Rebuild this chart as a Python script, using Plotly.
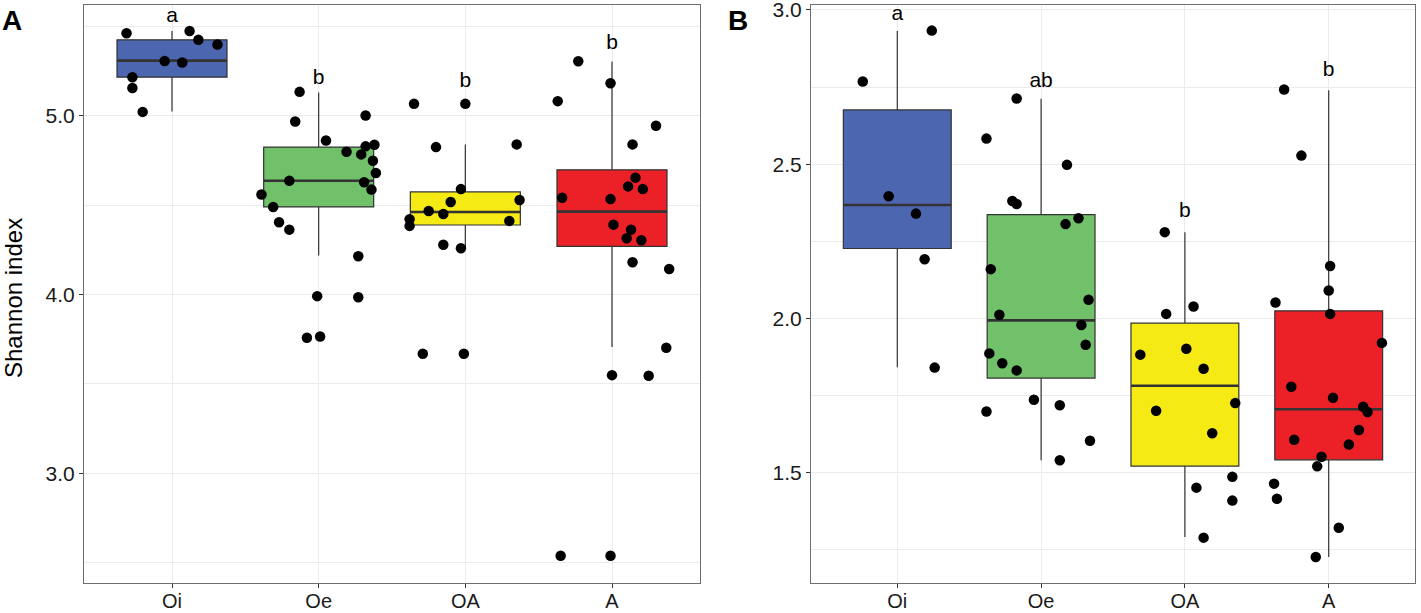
import plotly.graph_objects as go

# categories and colours
horizons = ["Oi", "Oe", "OA", "A"]
box_colors = ["#4C66AF", "#70C169", "#F5EA14", "#EC2027"]

# panel A: Shannon index, box stats
a_q1 = [5.216, 4.490, 4.389, 4.270]
a_median = [5.309, 4.637, 4.462, 4.464]
a_q3 = [5.425, 4.825, 4.574, 4.698]
a_low = [5.024, 4.218, 4.259, 3.706]
a_high = [5.475, 5.130, 4.840, 5.304]
a_letters = ["a", "b", "b", "b"]
a_letter_y = [5.555, 5.21, 5.19, 5.406]

# panel A points (value, horizontal jitter in category units)
a_oi = [5.462, 5.475, 5.425, 5.399, 5.307, 5.298, 5.216, 5.156, 5.022]
a_oi_jit = [-0.31, 0.12, 0.18, 0.31, -0.05, 0.07, -0.27, -0.27, -0.20]
a_oe = [5.134, 4.968, 5.002, 4.862, 4.799, 4.829, 4.838, 4.784, 4.749, 4.680, 4.637,
        4.628, 4.587, 4.560, 4.490, 4.404, 4.363, 4.214, 3.991, 3.985, 3.758, 3.765]
a_oe_jit = [-0.13, -0.16, 0.32, 0.05, 0.19, 0.32, 0.38, 0.29, 0.37, 0.39, -0.20,
            0.31, 0.36, -0.39, -0.31, -0.27, -0.20, 0.27, -0.01, 0.27, -0.08, 0.01]
a_oa = [5.067, 5.067, 4.825, 4.840, 4.590, 4.518, 4.529, 4.467, 4.451, 4.421, 4.384,
        4.412, 4.279, 4.259, 3.669, 3.669]
a_oa_jit = [-0.35, 0.00, -0.20, 0.35, -0.03, -0.10, 0.37, -0.25, -0.15, -0.38, -0.38,
            0.30, -0.15, -0.03, -0.29, -0.01]
a_a = [5.305, 5.182, 5.082, 4.944, 4.840, 4.542, 4.534, 4.654, 4.605, 4.590, 4.391,
       4.363, 4.315, 4.304, 4.181, 4.143, 3.702, 3.549, 3.546, 2.538, 2.538]
a_a_jit = [-0.23, -0.01, -0.37, 0.30, 0.14, -0.34, -0.01, 0.16, 0.11, 0.21, 0.01,
           0.13, 0.10, 0.20, 0.14, 0.39, 0.37, 0.00, 0.25, -0.35, -0.01]

# panel B
b_q1 = [2.227, 1.807, 1.522, 1.542]
b_median = [2.368, 1.994, 1.782, 1.706]
b_q3 = [2.676, 2.337, 1.985, 2.025]
b_low = [1.842, 1.541, 1.292, 1.227]
b_high = [2.932, 2.712, 2.280, 2.740]
b_letters = ["a", "ab", "b", "b"]
b_letter_y = [2.984, 2.767, 2.345, 2.802]

b_oi = [2.933, 2.768, 2.396, 2.340, 2.192, 1.841]
b_oi_jit = [0.24, -0.24, -0.06, 0.13, 0.19, 0.26]
b_oe = [2.713, 2.583, 2.498, 2.381, 2.371, 2.325, 2.306, 2.160, 2.061, 2.012, 1.979,
        1.915, 1.887, 1.855, 1.832, 1.737, 1.719, 1.699, 1.604, 1.541]
b_oe_jit = [-0.17, -0.38, 0.18, -0.20, -0.17, 0.26, 0.17, -0.35, 0.33, -0.29, 0.28,
            0.31, -0.36, -0.27, -0.17, -0.05, 0.13, -0.38, 0.34, 0.13]
b_oa = [2.280, 2.015, 2.039, 1.883, 1.902, 1.837, 1.726, 1.701, 1.628, 1.487, 1.452,
        1.410, 1.290]
b_oa_jit = [-0.14, -0.13, 0.06, -0.31, 0.01, 0.13, 0.35, -0.20, 0.19, 0.33, 0.08,
            0.33, 0.13]
b_a = [2.742, 2.528, 2.170, 2.091, 2.052, 2.015, 1.921, 1.779, 1.743, 1.714, 1.697,
       1.639, 1.607, 1.592, 1.552, 1.521, 1.465, 1.416, 1.322, 1.227]
b_a_jit = [-0.31, -0.19, 0.01, 0.00, -0.37, 0.01, 0.37, -0.26, 0.03, 0.24, 0.27,
           0.21, -0.24, 0.14, -0.05, -0.08, -0.38, -0.36, 0.07, -0.09]

W, H = 1421, 613
BOXW = 0.75
FONT = "Liberation Sans, Arial, sans-serif"
fig = go.Figure()


def add_panel(fig, xa, ya, q1, med, q3, lo, hi, points, letters, letter_y):
    for i, name in enumerate(horizons):
        pos = i + 1
        fig.add_trace(go.Box(
            x=[pos], q1=[q1[i]], median=[med[i]], q3=[q3[i]],
            lowerfence=[lo[i]], upperfence=[hi[i]],
            width=BOXW, whiskerwidth=0, fillcolor=box_colors[i],
            line=dict(color="#333333", width=1.2), boxpoints=False,
            xaxis=xa, yaxis=ya, showlegend=False, hoverinfo="skip"))
        # thicker median bar like ggplot
        fig.add_trace(go.Scatter(
            x=[pos - BOXW / 2, pos + BOXW / 2], y=[med[i], med[i]], mode="lines",
            line=dict(color="#333333", width=2.6), xaxis=xa, yaxis=ya,
            showlegend=False, hoverinfo="skip"))
    for i, (vals, jit) in enumerate(points):
        fig.add_trace(go.Scatter(
            x=[i + 1 + j for j in jit], y=vals, mode="markers",
            marker=dict(color="black", size=10.5), xaxis=xa, yaxis=ya,
            showlegend=False, hoverinfo="skip"))
    fig.add_trace(go.Scatter(
        x=[1, 2, 3, 4], y=letter_y, mode="text", text=letters,
        textfont=dict(size=21, color="black", family=FONT),
        xaxis=xa, yaxis=ya, showlegend=False, hoverinfo="skip"))


add_panel(fig, "x", "y", a_q1, a_median, a_q3, a_low, a_high,
          [(a_oi, a_oi_jit), (a_oe, a_oe_jit), (a_oa, a_oa_jit), (a_a, a_a_jit)],
          a_letters, a_letter_y)
add_panel(fig, "x2", "y2", b_q1, b_median, b_q3, b_low, b_high,
          [(b_oi, b_oi_jit), (b_oe, b_oe_jit), (b_oa, b_oa_jit), (b_a, b_a_jit)],
          b_letters, b_letter_y)

grid = "#EBEBEB"
xcommon = dict(range=[0.4, 4.6], tickvals=[1, 2, 3, 4], ticktext=horizons,
               showgrid=True, gridcolor=grid, gridwidth=1, zeroline=False,
               showline=True, mirror=True, linecolor="#6E6E6E", linewidth=1,
               ticks="outside", ticklen=4, tickcolor="#333333",
               automargin=False, ticklabeloverflow="allow", ticklabelstandoff=-4,
               tickfont=dict(size=20, color="#1A1A1A", family=FONT))
ycommon = dict(showgrid=True, gridcolor=grid, gridwidth=1, zeroline=False,
               showline=True, mirror=True, linecolor="#6E6E6E", linewidth=1,
               ticks="outside", ticklen=4, tickcolor="#333333",
               automargin=False, ticklabeloverflow="allow",
               tickfont=dict(size=21, color="#1A1A1A", family=FONT))

y0, y1 = 1 - 583 / H, 1 - 5 / H
fig.update_layout(
    width=W, height=H, margin=dict(l=0, r=0, t=0, b=0),
    plot_bgcolor="white", paper_bgcolor="white",
    xaxis=dict(domain=[84 / W, 700 / W], anchor="y", **xcommon),
    yaxis=dict(domain=[y0, y1], anchor="x", range=[2.386, 5.62],
               tickvals=[3, 4, 5], ticktext=["3.0", "4.0", "5.0"],
               minor=dict(tickvals=[2.5, 3.5, 4.5, 5.5], showgrid=True,
                          gridcolor=grid, gridwidth=0.8, ticks=""),
               **ycommon),
    xaxis2=dict(domain=[811 / W, 1415 / W], anchor="y2", **xcommon),
    yaxis2=dict(domain=[y0, y1], anchor="x2", range=[1.143, 3.016],
                tickvals=[1.5, 2.0, 2.5, 3.0], ticktext=["1.5", "2.0", "2.5", "3.0"],
                minor=dict(tickvals=[1.25, 1.75, 2.25, 2.75], showgrid=True,
                           gridcolor=grid, gridwidth=0.8, ticks=""),
                **ycommon),
    annotations=[
        dict(text="Shannon index", x=13 / W, y=1 - 298 / H, xref="paper", yref="paper",
             xanchor="center", yanchor="middle", textangle=-90, showarrow=False,
             font=dict(size=24, color="black", family=FONT)),
        dict(text="<b>A</b>", x=0, y=1 - 3 / H, xref="paper", yref="paper",
             xanchor="left", yanchor="top", showarrow=False,
             font=dict(size=28, color="black", family=FONT)),
        dict(text="<b>B</b>", x=726 / W, y=1 - 3 / H, xref="paper", yref="paper",
             xanchor="left", yanchor="top", showarrow=False,
             font=dict(size=28, color="black", family=FONT)),
    ],
)

# the page body has a default 8px margin; drop it so the figure sits at 0,0
fig.write_html("out.html", config={"displayModeBar": False},
               post_script="document.body.style.margin='0';")
